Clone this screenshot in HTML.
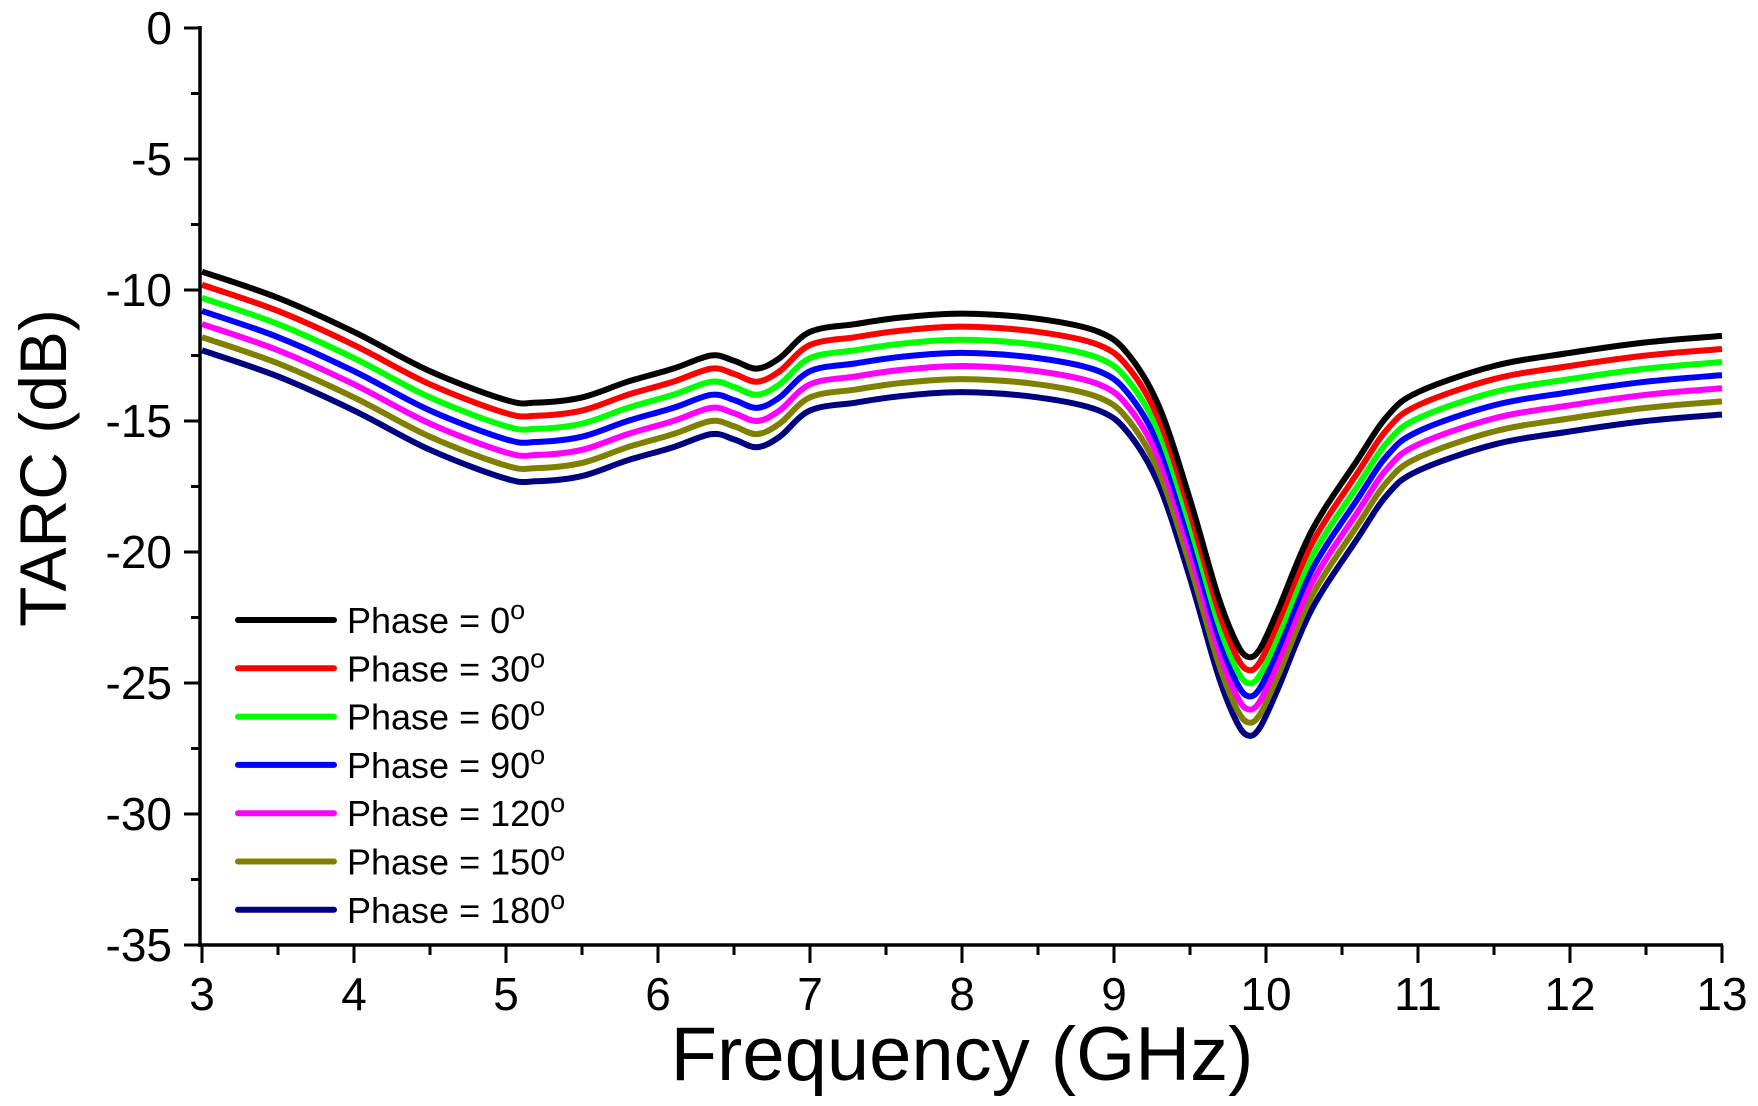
<!DOCTYPE html>
<html><head><meta charset="utf-8"><style>
html,body{margin:0;padding:0;background:#fff;}
svg{display:block;font-family:"Liberation Sans",Arial,sans-serif;}
</style></head><body>
<svg id="s" width="1758" height="1106" viewBox="0 0 1758 1106" xmlns="http://www.w3.org/2000/svg">
<g id="ticks" stroke="#000" stroke-width="3"></g>
<g id="curves" fill="none" stroke-width="6" stroke-linejoin="round"></g>
<line x1="200" y1="26" x2="200" y2="947" stroke="#000" stroke-width="3.5"/>
<line x1="198" y1="945" x2="1723" y2="945" stroke="#000" stroke-width="3.5"/>
<g id="labels" font-size="46" fill="#000"></g>
<text x="962" y="1080" font-size="76" text-anchor="middle">Frequency (GHz)</text>
<text transform="translate(66,468) rotate(-90)" font-size="66" text-anchor="middle">TARC (dB)</text>
<g id="legend" font-size="36"></g>
</svg>
<script>
var X0=202,X1=1722,Y0=28,PY=26.2;
function fx(f){return X0+(f-3)*(X1-X0)/10;}
function fy(d){return Y0-d*PY;}
var NS="http://www.w3.org/2000/svg";
function el(p,t,a,txt){var e=document.createElementNS(NS,t);for(var k in a)e.setAttribute(k,a[k]);if(txt!=null)e.textContent=txt;document.getElementById(p).appendChild(e);return e;}
for(var d=0;d>=-35;d-=2.5){var maj=(d%5===0);var y=fy(d);el("ticks","line",{x1:200-(maj?16:9),y1:y,x2:200,y2:y});
 if(maj)el("labels","text",{x:172,y:y+16,"text-anchor":"end"},String(d));}
for(var f=3;f<=13.001;f+=0.5){var x=fx(f);var maj=Math.abs(f-Math.round(f))<0.01;el("ticks","line",{x1:x,y1:945,x2:x,y2:945+(maj?18:10)});
 if(maj)el("labels","text",{x:x,y:1010,"text-anchor":"middle"},String(Math.round(f)));}
var base=[[3,-9.3],[3.5,-10.3],[4,-11.6],[4.5,-13.1],[5,-14.2],[5.2,-14.3],[5.5,-14.1],[5.8,-13.5],[6.1,-13.0],[6.35,-12.5],[6.5,-12.7],[6.65,-13.0],[6.8,-12.6],[7.0,-11.6],[7.3,-11.3],[7.6,-11.05],[8.0,-10.9],[8.5,-11.1],[8.9,-11.6],[9.1,-12.5],[9.3,-14.5],[9.5,-18],[9.68,-21.6],[9.8,-23.4],[9.88,-24.0],[9.96,-23.7],[10.08,-22.2],[10.3,-19.2],[10.6,-16.5],[10.8,-14.8],[11.0,-13.9],[11.5,-12.9],[12,-12.4],[12.5,-12.0],[13,-11.75]];
function path(pts){var p=pts.map(function(q){return [fx(q[0]),fy(q[1])];});var s="M"+p[0][0]+","+p[0][1];
 for(var i=0;i<p.length-1;i++){var a=p[i-1]||p[i],b=p[i],c=p[i+1],d=p[i+2]||c;
 s+=" C"+(b[0]+(c[0]-a[0])/6)+","+(b[1]+(c[1]-a[1])/6)+" "+(c[0]-(d[0]-b[0])/6)+","+(c[1]-(d[1]-b[1])/6)+" "+c[0]+","+c[1];}return s;}
var cols=["#000000","#ff0000","#00ff00","#0000ff","#ff00ff","#808000","#000080"];
var names=["0","30","60","90","120","150","180"];
for(var i=6;i>=0;i--){var off=0.5*i;var pts=base.map(function(q){return [q[0],q[1]-off];});
 el("curves","path",{d:path(pts),stroke:cols[i]});}
for(var i=0;i<7;i++){var y=620+i*48.3;el("legend","line",{x1:238,y1:y,x2:334,y2:y,stroke:cols[i],"stroke-width":6,"stroke-linecap":"round"});
 var t=el("legend","text",{x:347,y:y+13},"Phase = "+names[i]);
 var ts=document.createElementNS(NS,"tspan");ts.setAttribute("dy","-14");ts.setAttribute("font-size","27");ts.textContent="o";t.appendChild(ts);}
</script>
</body></html>
